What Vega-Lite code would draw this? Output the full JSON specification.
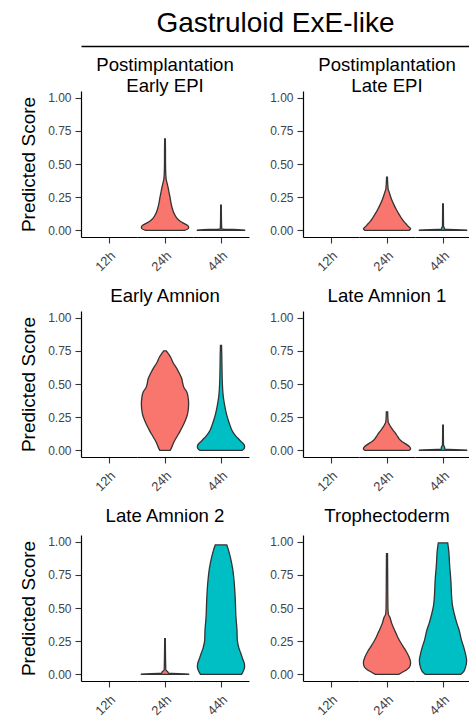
{
"$schema": "https://vega.github.io/schema/vega-lite/v6.json",
"padding": {"left": 18, "top": 10, "right": 0, "bottom": 0},
"config": {
  "font": "Liberation Sans",
  "view": {"stroke": null},
  "axis": {"grid": false, "domainColor": "black", "domainWidth": 1.2, "tickColor": "#333333", "tickWidth": 1.1, "tickSize": 6, "labelColor": "#444444", "labelFontSize": 12, "labelPadding": 4, "titleFontWeight": "normal", "titleColor": "black", "titleFontSize": 19},
  "title": {"fontWeight": "normal", "fontSize": 18, "color": "black"},
  "header": {"labelFontSize": 13, "labelColor": "#444444", "labelFont": "Liberation Sans", "titleFont": "Liberation Sans", "titleFontSize": 18.6, "titleFontWeight": "normal", "titleColor": "black", "titleLineHeight": 21}
},
"datasets": {
  "violins": [
    {"panel": "Early EPI", "time": "12h", "score": 0, "w": 0},
    {"panel": "Early EPI", "time": "24h", "score": 0, "w": 0.74},
    {"panel": "Early EPI", "time": "24h", "score": 0.012, "w": 0.88},
    {"panel": "Early EPI", "time": "24h", "score": 0.025, "w": 0.9},
    {"panel": "Early EPI", "time": "24h", "score": 0.04, "w": 0.84},
    {"panel": "Early EPI", "time": "24h", "score": 0.055, "w": 0.7},
    {"panel": "Early EPI", "time": "24h", "score": 0.07, "w": 0.57},
    {"panel": "Early EPI", "time": "24h", "score": 0.09, "w": 0.46},
    {"panel": "Early EPI", "time": "24h", "score": 0.13, "w": 0.34},
    {"panel": "Early EPI", "time": "24h", "score": 0.17, "w": 0.27},
    {"panel": "Early EPI", "time": "24h", "score": 0.205, "w": 0.23},
    {"panel": "Early EPI", "time": "24h", "score": 0.25, "w": 0.19},
    {"panel": "Early EPI", "time": "24h", "score": 0.28, "w": 0.16},
    {"panel": "Early EPI", "time": "24h", "score": 0.33, "w": 0.11},
    {"panel": "Early EPI", "time": "24h", "score": 0.355, "w": 0.08},
    {"panel": "Early EPI", "time": "24h", "score": 0.38, "w": 0.05},
    {"panel": "Early EPI", "time": "24h", "score": 0.42, "w": 0.03},
    {"panel": "Early EPI", "time": "24h", "score": 0.5, "w": 0.02},
    {"panel": "Early EPI", "time": "24h", "score": 0.6, "w": 0.018},
    {"panel": "Early EPI", "time": "24h", "score": 0.69, "w": 0.012},
    {"panel": "Early EPI", "time": "44h", "score": 0, "w": 0.9},
    {"panel": "Early EPI", "time": "44h", "score": 0.004, "w": 0.9},
    {"panel": "Early EPI", "time": "44h", "score": 0.009, "w": 0.03},
    {"panel": "Early EPI", "time": "44h", "score": 0.05, "w": 0.02},
    {"panel": "Early EPI", "time": "44h", "score": 0.19, "w": 0.012},

    {"panel": "Late EPI", "time": "12h", "score": 0, "w": 0},
    {"panel": "Late EPI", "time": "24h", "score": 0, "w": 0.84},
    {"panel": "Late EPI", "time": "24h", "score": 0.012, "w": 0.9},
    {"panel": "Late EPI", "time": "24h", "score": 0.03, "w": 0.81},
    {"panel": "Late EPI", "time": "24h", "score": 0.05, "w": 0.72},
    {"panel": "Late EPI", "time": "24h", "score": 0.07, "w": 0.63},
    {"panel": "Late EPI", "time": "24h", "score": 0.095, "w": 0.54},
    {"panel": "Late EPI", "time": "24h", "score": 0.12, "w": 0.46},
    {"panel": "Late EPI", "time": "24h", "score": 0.155, "w": 0.36},
    {"panel": "Late EPI", "time": "24h", "score": 0.19, "w": 0.27},
    {"panel": "Late EPI", "time": "24h", "score": 0.23, "w": 0.18},
    {"panel": "Late EPI", "time": "24h", "score": 0.27, "w": 0.11},
    {"panel": "Late EPI", "time": "24h", "score": 0.29, "w": 0.08},
    {"panel": "Late EPI", "time": "24h", "score": 0.305, "w": 0.05},
    {"panel": "Late EPI", "time": "24h", "score": 0.33, "w": 0.035},
    {"panel": "Late EPI", "time": "24h", "score": 0.36, "w": 0.025},
    {"panel": "Late EPI", "time": "24h", "score": 0.4, "w": 0.015},
    {"panel": "Late EPI", "time": "44h", "score": 0, "w": 0.9},
    {"panel": "Late EPI", "time": "44h", "score": 0.004, "w": 0.9},
    {"panel": "Late EPI", "time": "44h", "score": 0.008, "w": 0.06},
    {"panel": "Late EPI", "time": "44h", "score": 0.02, "w": 0.05},
    {"panel": "Late EPI", "time": "44h", "score": 0.03, "w": 0.02},
    {"panel": "Late EPI", "time": "44h", "score": 0.2, "w": 0.012},

    {"panel": "Early Amnion", "time": "12h", "score": 0, "w": 0},
    {"panel": "Early Amnion", "time": "24h", "score": 0, "w": 0.2},
    {"panel": "Early Amnion", "time": "24h", "score": 0.03, "w": 0.27},
    {"panel": "Early Amnion", "time": "24h", "score": 0.0625, "w": 0.34},
    {"panel": "Early Amnion", "time": "24h", "score": 0.125, "w": 0.52},
    {"panel": "Early Amnion", "time": "24h", "score": 0.2, "w": 0.72},
    {"panel": "Early Amnion", "time": "24h", "score": 0.275, "w": 0.86},
    {"panel": "Early Amnion", "time": "24h", "score": 0.35, "w": 0.9},
    {"panel": "Early Amnion", "time": "24h", "score": 0.4, "w": 0.88},
    {"panel": "Early Amnion", "time": "24h", "score": 0.44, "w": 0.83},
    {"panel": "Early Amnion", "time": "24h", "score": 0.47, "w": 0.73},
    {"panel": "Early Amnion", "time": "24h", "score": 0.5, "w": 0.68},
    {"panel": "Early Amnion", "time": "24h", "score": 0.54, "w": 0.64},
    {"panel": "Early Amnion", "time": "24h", "score": 0.575, "w": 0.56},
    {"panel": "Early Amnion", "time": "24h", "score": 0.62, "w": 0.44},
    {"panel": "Early Amnion", "time": "24h", "score": 0.66, "w": 0.31},
    {"panel": "Early Amnion", "time": "24h", "score": 0.7, "w": 0.22},
    {"panel": "Early Amnion", "time": "24h", "score": 0.73, "w": 0.12},
    {"panel": "Early Amnion", "time": "24h", "score": 0.75, "w": 0.05},
    {"panel": "Early Amnion", "time": "44h", "score": 0, "w": 0.8},
    {"panel": "Early Amnion", "time": "44h", "score": 0.012, "w": 0.88},
    {"panel": "Early Amnion", "time": "44h", "score": 0.03, "w": 0.9},
    {"panel": "Early Amnion", "time": "44h", "score": 0.05, "w": 0.85},
    {"panel": "Early Amnion", "time": "44h", "score": 0.0625, "w": 0.78},
    {"panel": "Early Amnion", "time": "44h", "score": 0.08, "w": 0.7},
    {"panel": "Early Amnion", "time": "44h", "score": 0.1, "w": 0.6},
    {"panel": "Early Amnion", "time": "44h", "score": 0.125, "w": 0.5},
    {"panel": "Early Amnion", "time": "44h", "score": 0.15, "w": 0.42},
    {"panel": "Early Amnion", "time": "44h", "score": 0.19, "w": 0.34},
    {"panel": "Early Amnion", "time": "44h", "score": 0.225, "w": 0.28},
    {"panel": "Early Amnion", "time": "44h", "score": 0.28, "w": 0.2},
    {"panel": "Early Amnion", "time": "44h", "score": 0.35, "w": 0.13},
    {"panel": "Early Amnion", "time": "44h", "score": 0.4, "w": 0.09},
    {"panel": "Early Amnion", "time": "44h", "score": 0.47, "w": 0.06},
    {"panel": "Early Amnion", "time": "44h", "score": 0.55, "w": 0.045},
    {"panel": "Early Amnion", "time": "44h", "score": 0.65, "w": 0.035},
    {"panel": "Early Amnion", "time": "44h", "score": 0.72, "w": 0.03},
    {"panel": "Early Amnion", "time": "44h", "score": 0.79, "w": 0.02},

    {"panel": "Late Amnion 1", "time": "12h", "score": 0, "w": 0},
    {"panel": "Late Amnion 1", "time": "24h", "score": 0, "w": 0.85},
    {"panel": "Late Amnion 1", "time": "24h", "score": 0.012, "w": 0.9},
    {"panel": "Late Amnion 1", "time": "24h", "score": 0.025, "w": 0.87},
    {"panel": "Late Amnion 1", "time": "24h", "score": 0.045, "w": 0.74},
    {"panel": "Late Amnion 1", "time": "24h", "score": 0.065, "w": 0.58},
    {"panel": "Late Amnion 1", "time": "24h", "score": 0.085, "w": 0.47},
    {"panel": "Late Amnion 1", "time": "24h", "score": 0.105, "w": 0.4},
    {"panel": "Late Amnion 1", "time": "24h", "score": 0.13, "w": 0.32},
    {"panel": "Late Amnion 1", "time": "24h", "score": 0.155, "w": 0.22},
    {"panel": "Late Amnion 1", "time": "24h", "score": 0.175, "w": 0.15},
    {"panel": "Late Amnion 1", "time": "24h", "score": 0.195, "w": 0.09},
    {"panel": "Late Amnion 1", "time": "24h", "score": 0.21, "w": 0.05},
    {"panel": "Late Amnion 1", "time": "24h", "score": 0.24, "w": 0.035},
    {"panel": "Late Amnion 1", "time": "24h", "score": 0.29, "w": 0.025},
    {"panel": "Late Amnion 1", "time": "44h", "score": 0, "w": 0.9},
    {"panel": "Late Amnion 1", "time": "44h", "score": 0.004, "w": 0.9},
    {"panel": "Late Amnion 1", "time": "44h", "score": 0.008, "w": 0.07},
    {"panel": "Late Amnion 1", "time": "44h", "score": 0.025, "w": 0.06},
    {"panel": "Late Amnion 1", "time": "44h", "score": 0.04, "w": 0.02},
    {"panel": "Late Amnion 1", "time": "44h", "score": 0.19, "w": 0.012},

    {"panel": "Late Amnion 2", "time": "12h", "score": 0, "w": 0},
    {"panel": "Late Amnion 2", "time": "24h", "score": 0, "w": 0.9},
    {"panel": "Late Amnion 2", "time": "24h", "score": 0.004, "w": 0.9},
    {"panel": "Late Amnion 2", "time": "24h", "score": 0.008, "w": 0.14},
    {"panel": "Late Amnion 2", "time": "24h", "score": 0.02, "w": 0.1},
    {"panel": "Late Amnion 2", "time": "24h", "score": 0.035, "w": 0.03},
    {"panel": "Late Amnion 2", "time": "24h", "score": 0.27, "w": 0.012},
    {"panel": "Late Amnion 2", "time": "44h", "score": 0, "w": 0.78},
    {"panel": "Late Amnion 2", "time": "44h", "score": 0.02, "w": 0.84},
    {"panel": "Late Amnion 2", "time": "44h", "score": 0.055, "w": 0.9},
    {"panel": "Late Amnion 2", "time": "44h", "score": 0.08, "w": 0.89},
    {"panel": "Late Amnion 2", "time": "44h", "score": 0.12, "w": 0.82},
    {"panel": "Late Amnion 2", "time": "44h", "score": 0.155, "w": 0.76},
    {"panel": "Late Amnion 2", "time": "44h", "score": 0.2, "w": 0.68},
    {"panel": "Late Amnion 2", "time": "44h", "score": 0.26, "w": 0.62},
    {"panel": "Late Amnion 2", "time": "44h", "score": 0.33, "w": 0.61},
    {"panel": "Late Amnion 2", "time": "44h", "score": 0.43, "w": 0.57},
    {"panel": "Late Amnion 2", "time": "44h", "score": 0.58, "w": 0.54},
    {"panel": "Late Amnion 2", "time": "44h", "score": 0.7, "w": 0.5},
    {"panel": "Late Amnion 2", "time": "44h", "score": 0.8, "w": 0.44},
    {"panel": "Late Amnion 2", "time": "44h", "score": 0.88, "w": 0.36},
    {"panel": "Late Amnion 2", "time": "44h", "score": 0.94, "w": 0.28},
    {"panel": "Late Amnion 2", "time": "44h", "score": 0.975, "w": 0.22},

    {"panel": "Trophectoderm", "time": "12h", "score": 0, "w": 0},
    {"panel": "Trophectoderm", "time": "24h", "score": 0, "w": 0.45},
    {"panel": "Trophectoderm", "time": "24h", "score": 0.0175, "w": 0.6},
    {"panel": "Trophectoderm", "time": "24h", "score": 0.035, "w": 0.75},
    {"panel": "Trophectoderm", "time": "24h", "score": 0.055, "w": 0.86},
    {"panel": "Trophectoderm", "time": "24h", "score": 0.09, "w": 0.9},
    {"panel": "Trophectoderm", "time": "24h", "score": 0.13, "w": 0.84},
    {"panel": "Trophectoderm", "time": "24h", "score": 0.17, "w": 0.74},
    {"panel": "Trophectoderm", "time": "24h", "score": 0.205, "w": 0.63},
    {"panel": "Trophectoderm", "time": "24h", "score": 0.24, "w": 0.52},
    {"panel": "Trophectoderm", "time": "24h", "score": 0.28, "w": 0.41},
    {"panel": "Trophectoderm", "time": "24h", "score": 0.32, "w": 0.32},
    {"panel": "Trophectoderm", "time": "24h", "score": 0.355, "w": 0.24},
    {"panel": "Trophectoderm", "time": "24h", "score": 0.39, "w": 0.17},
    {"panel": "Trophectoderm", "time": "24h", "score": 0.43, "w": 0.11},
    {"panel": "Trophectoderm", "time": "24h", "score": 0.455, "w": 0.05},
    {"panel": "Trophectoderm", "time": "24h", "score": 0.5, "w": 0.035},
    {"panel": "Trophectoderm", "time": "24h", "score": 0.6, "w": 0.03},
    {"panel": "Trophectoderm", "time": "24h", "score": 0.75, "w": 0.025},
    {"panel": "Trophectoderm", "time": "24h", "score": 0.91, "w": 0.02},
    {"panel": "Trophectoderm", "time": "44h", "score": 0, "w": 0.68},
    {"panel": "Trophectoderm", "time": "44h", "score": 0.025, "w": 0.8},
    {"panel": "Trophectoderm", "time": "44h", "score": 0.055, "w": 0.86},
    {"panel": "Trophectoderm", "time": "44h", "score": 0.105, "w": 0.9},
    {"panel": "Trophectoderm", "time": "44h", "score": 0.15, "w": 0.86},
    {"panel": "Trophectoderm", "time": "44h", "score": 0.205, "w": 0.79},
    {"panel": "Trophectoderm", "time": "44h", "score": 0.26, "w": 0.7},
    {"panel": "Trophectoderm", "time": "44h", "score": 0.33, "w": 0.62},
    {"panel": "Trophectoderm", "time": "44h", "score": 0.39, "w": 0.52},
    {"panel": "Trophectoderm", "time": "44h", "score": 0.455, "w": 0.43},
    {"panel": "Trophectoderm", "time": "44h", "score": 0.52, "w": 0.36},
    {"panel": "Trophectoderm", "time": "44h", "score": 0.58, "w": 0.33},
    {"panel": "Trophectoderm", "time": "44h", "score": 0.705, "w": 0.3},
    {"panel": "Trophectoderm", "time": "44h", "score": 0.83, "w": 0.25},
    {"panel": "Trophectoderm", "time": "44h", "score": 0.93, "w": 0.22},
    {"panel": "Trophectoderm", "time": "44h", "score": 0.99, "w": 0.18}
  ],
  "titleRow": [{"v": 0}]
},
"vconcat": [
  {
    "spacing": 4,
    "vconcat": [
      {
        "width": 389, "height": 1,
        "title": {"text": "Gastruloid ExE-like", "fontSize": 28, "anchor": "middle", "frame": "group", "offset": 1},
        "data": {"name": "titleRow"},
        "mark": {"type": "point", "opacity": 0},
        "encoding": {
          "x": {"field": "v", "type": "quantitative", "scale": {"domain": [0, 1]}, "axis": {"domain": true, "domainWidth": 1.6, "ticks": false, "labels": false, "title": null}},
          "y": {"field": "v", "type": "quantitative", "scale": {"domain": [0, 1]}, "axis": {"domain": false, "ticks": false, "labels": false, "title": "P", "titleColor": "transparent", "titleFontSize": 19, "titlePadding": 9, "minExtent": 34, "maxExtent": 34}}
        }
      },
      {"hconcat": [
        {
          "data": {"name": "violins"},
          "transform": [{"filter": "datum.panel === 'Early EPI'"}],
          "facet": {"column": {"field": "time", "type": "ordinal", "sort": ["12h", "24h", "44h"], "title": ["Postimplantation", "Early EPI"], "header": {"titleOrient": "top", "titleAnchor": "middle", "titlePadding": -15, "labelOrient": "bottom", "labelAngle": -45, "labelAlign": "right", "labelBaseline": "top", "labelPadding": 6, "labelFontSize": 13, "labelColor": "#444444"}}},
          "spacing": 0,
          "spec": {
            "width": 56, "height": 146,
            "mark": {"type": "area", "orient": "horizontal", "interpolate": "monotone", "stroke": "#333333", "strokeWidth": 1.3, "fillOpacity": 1},
            "encoding": {
              "y": {"field": "score", "type": "quantitative", "scale": {"domain": [-0.05, 1.05], "nice": false, "zero": false}, "axis": {"values": [0, 0.25, 0.5, 0.75, 1], "format": ".2f", "title": "Predicted Score", "titleFontSize": 19, "titlePadding": 9, "minExtent": 34, "maxExtent": 34}},
              "x": {"field": "w", "type": "quantitative", "stack": "center", "impute": null, "scale": {"domain": [-0.0833, 0.9833], "nice": false, "zero": false}, "axis": {"values": [0.45], "labels": false, "title": null}},
              "color": {"field": "time", "type": "nominal", "scale": {"domain": ["24h", "44h", "12h"], "range": ["#F8766D", "#00BFC4", "#FFFFFF"]}, "legend": null}
            }
          }
        },
        {
          "data": {"name": "violins"},
          "transform": [{"filter": "datum.panel === 'Late EPI'"}],
          "facet": {"column": {"field": "time", "type": "ordinal", "sort": ["12h", "24h", "44h"], "title": ["Postimplantation", "Late EPI"], "header": {"titleOrient": "top", "titleAnchor": "middle", "titlePadding": -15, "labelOrient": "bottom", "labelAngle": -45, "labelAlign": "right", "labelBaseline": "top", "labelPadding": 6, "labelFontSize": 13, "labelColor": "#444444"}}},
          "spacing": 0,
          "spec": {
            "width": 56, "height": 146,
            "mark": {"type": "area", "orient": "horizontal", "interpolate": "monotone", "stroke": "#333333", "strokeWidth": 1.3, "fillOpacity": 1},
            "encoding": {
              "y": {"field": "score", "type": "quantitative", "scale": {"domain": [-0.05, 1.05], "nice": false, "zero": false}, "axis": {"values": [0, 0.25, 0.5, 0.75, 1], "format": ".2f", "title": null, "minExtent": 34, "maxExtent": 34}},
              "x": {"field": "w", "type": "quantitative", "stack": "center", "impute": null, "scale": {"domain": [-0.0833, 0.9833], "nice": false, "zero": false}, "axis": {"values": [0.45], "labels": false, "title": null}},
              "color": {"field": "time", "type": "nominal", "scale": {"domain": ["24h", "44h", "12h"], "range": ["#F8766D", "#00BFC4", "#FFFFFF"]}, "legend": null}
            }
          }
        }
      ]}
    ]
  },
  {"hconcat": [
    {
      "data": {"name": "violins"},
      "transform": [{"filter": "datum.panel === 'Early Amnion'"}],
      "facet": {"column": {"field": "time", "type": "ordinal", "sort": ["12h", "24h", "44h"], "title": "Early Amnion", "header": {"titleOrient": "top", "titleAnchor": "middle", "titlePadding": -5, "labelOrient": "bottom", "labelAngle": -45, "labelAlign": "right", "labelBaseline": "top", "labelPadding": 6, "labelFontSize": 13, "labelColor": "#444444"}}},
      "spacing": 0,
      "spec": {
        "width": 56, "height": 146,
        "mark": {"type": "area", "orient": "horizontal", "interpolate": "monotone", "stroke": "#333333", "strokeWidth": 1.3, "fillOpacity": 1},
        "encoding": {
          "y": {"field": "score", "type": "quantitative", "scale": {"domain": [-0.05, 1.05], "nice": false, "zero": false}, "axis": {"values": [0, 0.25, 0.5, 0.75, 1], "format": ".2f", "title": "Predicted Score", "titleFontSize": 19, "titlePadding": 9, "minExtent": 34, "maxExtent": 34}},
          "x": {"field": "w", "type": "quantitative", "stack": "center", "impute": null, "scale": {"domain": [-0.0833, 0.9833], "nice": false, "zero": false}, "axis": {"values": [0.45], "labels": false, "title": null}},
          "color": {"field": "time", "type": "nominal", "scale": {"domain": ["24h", "44h", "12h"], "range": ["#F8766D", "#00BFC4", "#FFFFFF"]}, "legend": null}
        }
      }
    },
    {
      "data": {"name": "violins"},
      "transform": [{"filter": "datum.panel === 'Late Amnion 1'"}],
      "facet": {"column": {"field": "time", "type": "ordinal", "sort": ["12h", "24h", "44h"], "title": "Late Amnion 1", "header": {"titleOrient": "top", "titleAnchor": "middle", "titlePadding": -5, "labelOrient": "bottom", "labelAngle": -45, "labelAlign": "right", "labelBaseline": "top", "labelPadding": 6, "labelFontSize": 13, "labelColor": "#444444"}}},
      "spacing": 0,
      "spec": {
        "width": 56, "height": 146,
        "mark": {"type": "area", "orient": "horizontal", "interpolate": "monotone", "stroke": "#333333", "strokeWidth": 1.3, "fillOpacity": 1},
        "encoding": {
          "y": {"field": "score", "type": "quantitative", "scale": {"domain": [-0.05, 1.05], "nice": false, "zero": false}, "axis": {"values": [0, 0.25, 0.5, 0.75, 1], "format": ".2f", "title": null, "minExtent": 34, "maxExtent": 34}},
          "x": {"field": "w", "type": "quantitative", "stack": "center", "impute": null, "scale": {"domain": [-0.0833, 0.9833], "nice": false, "zero": false}, "axis": {"values": [0.45], "labels": false, "title": null}},
          "color": {"field": "time", "type": "nominal", "scale": {"domain": ["24h", "44h", "12h"], "range": ["#F8766D", "#00BFC4", "#FFFFFF"]}, "legend": null}
        }
      }
    }
  ]},
  {"hconcat": [
    {
      "data": {"name": "violins"},
      "transform": [{"filter": "datum.panel === 'Late Amnion 2'"}],
      "facet": {"column": {"field": "time", "type": "ordinal", "sort": ["12h", "24h", "44h"], "title": "Late Amnion 2", "header": {"titleOrient": "top", "titleAnchor": "middle", "titlePadding": -1, "labelOrient": "bottom", "labelAngle": -45, "labelAlign": "right", "labelBaseline": "top", "labelPadding": 6, "labelFontSize": 13, "labelColor": "#444444"}}},
      "spacing": 0,
      "spec": {
        "width": 56, "height": 146,
        "mark": {"type": "area", "orient": "horizontal", "interpolate": "monotone", "stroke": "#333333", "strokeWidth": 1.3, "fillOpacity": 1},
        "encoding": {
          "y": {"field": "score", "type": "quantitative", "scale": {"domain": [-0.05, 1.05], "nice": false, "zero": false}, "axis": {"values": [0, 0.25, 0.5, 0.75, 1], "format": ".2f", "title": "Predicted Score", "titleFontSize": 19, "titlePadding": 9, "minExtent": 34, "maxExtent": 34}},
          "x": {"field": "w", "type": "quantitative", "stack": "center", "impute": null, "scale": {"domain": [-0.0833, 0.9833], "nice": false, "zero": false}, "axis": {"values": [0.45], "labels": false, "title": null}},
          "color": {"field": "time", "type": "nominal", "scale": {"domain": ["24h", "44h", "12h"], "range": ["#F8766D", "#00BFC4", "#FFFFFF"]}, "legend": null}
        }
      }
    },
    {
      "data": {"name": "violins"},
      "transform": [{"filter": "datum.panel === 'Trophectoderm'"}],
      "facet": {"column": {"field": "time", "type": "ordinal", "sort": ["12h", "24h", "44h"], "title": "Trophectoderm", "header": {"titleOrient": "top", "titleAnchor": "middle", "titlePadding": -1, "labelOrient": "bottom", "labelAngle": -45, "labelAlign": "right", "labelBaseline": "top", "labelPadding": 6, "labelFontSize": 13, "labelColor": "#444444"}}},
      "spacing": 0,
      "spec": {
        "width": 56, "height": 146,
        "mark": {"type": "area", "orient": "horizontal", "interpolate": "monotone", "stroke": "#333333", "strokeWidth": 1.3, "fillOpacity": 1},
        "encoding": {
          "y": {"field": "score", "type": "quantitative", "scale": {"domain": [-0.05, 1.05], "nice": false, "zero": false}, "axis": {"values": [0, 0.25, 0.5, 0.75, 1], "format": ".2f", "title": null, "minExtent": 34, "maxExtent": 34}},
          "x": {"field": "w", "type": "quantitative", "stack": "center", "impute": null, "scale": {"domain": [-0.0833, 0.9833], "nice": false, "zero": false}, "axis": {"values": [0.45], "labels": false, "title": null}},
          "color": {"field": "time", "type": "nominal", "scale": {"domain": ["24h", "44h", "12h"], "range": ["#F8766D", "#00BFC4", "#FFFFFF"]}, "legend": null}
        }
      }
    }
  ]}
],
"spacing": 12
}
